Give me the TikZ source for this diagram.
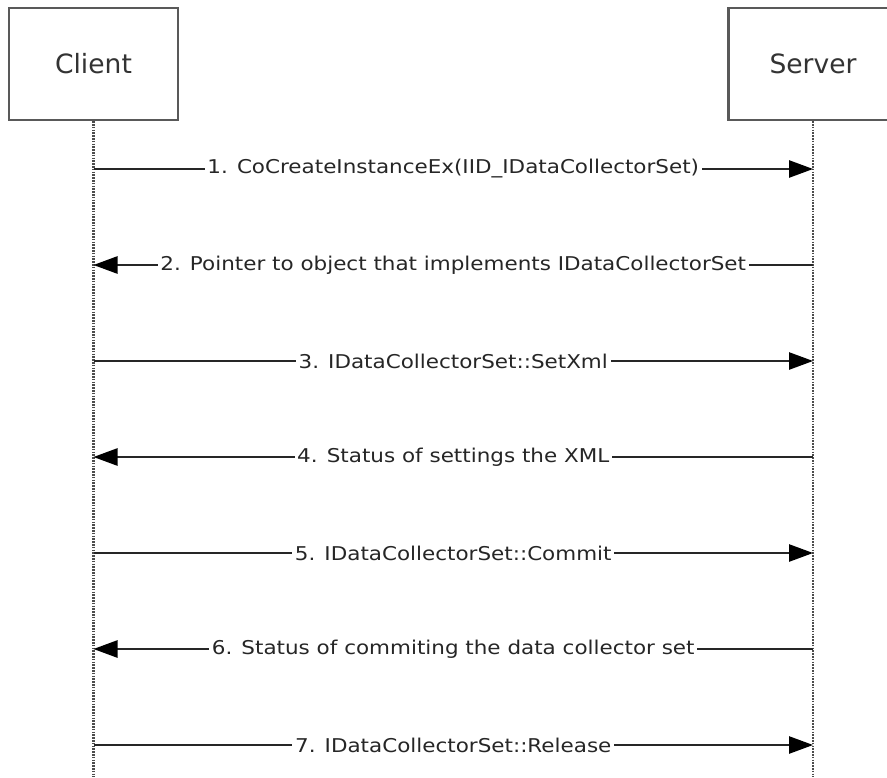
\documentclass[tikz,border=0pt]{standalone}
\usepackage{fontspec}
\setmainfont{DejaVu Sans}
\newfontfamily\msgfont{DejaVu Sans}[FakeStretch=1.13]
\usetikzlibrary{arrows.meta,positioning,calc}

\begin{document}
\begin{tikzpicture}
  [
  x=0.75pt, y=-0.75pt,
  actorbox/.style={rectangle, draw=black!65, line width=1.7pt, fill=white,
    minimum width=126.75pt, minimum height=84pt, text=black!80,
    font=\fontsize{19.9}{24}\selectfont},
  lifeline/.style={draw=black!70, line width=1.9pt, dash pattern=on 1.2pt off 0.9pt},
  msg/.style={draw=black!85, line width=1.1pt,
    -{Triangle[length=18pt,width=13pt,fill=black,color=black]}},
  msglabel/.style={fill=white, inner sep=2pt, text=black!85,
    font=\msgfont\fontsize{14.25}{17}\selectfont}
  ]
  \useasboundingbox (0,0) rectangle (887,777);

  \node[actorbox] (client) at (93.5,64) {Client};
  \node[actorbox] (server) at (813,64) {Server};

  \coordinate (clientend) at (93.5,777);
  \coordinate (serverend) at (813,777);
  \draw[lifeline] (client.south) -- (clientend);
  \draw[lifeline] (server.south) -- (serverend);

  \foreach \i/\txt in {%
    1/{1. CoCreateInstanceEx(IID\_IDataCollectorSet)},
    2/{2. Pointer to object that implements IDataCollectorSet},
    3/{3. IDataCollectorSet::SetXml},
    4/{4. Status of settings the XML},
    5/{5. IDataCollectorSet::Commit},
    6/{6. Status of commiting the data collector set},
    7/{7. IDataCollectorSet::Release}} {
    \pgfmathsetmacro{\y}{169+96*(\i-1)}
    \coordinate (c\i) at (93.5,\y);
    \coordinate (s\i) at (813,\y);
    \ifodd\i
      \draw[msg] (c\i) -- node[msglabel] (m\i) {\txt} (s\i);
    \else
      \draw[msg] (s\i) -- node[msglabel] (m\i) {\txt} (c\i);
    \fi
  }
\end{tikzpicture}
\end{document}
